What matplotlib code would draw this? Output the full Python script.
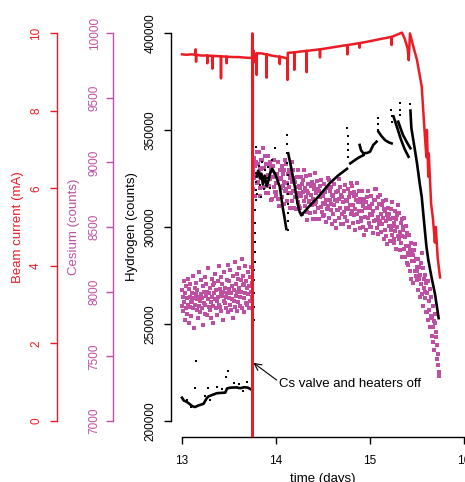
import numpy as np
import matplotlib.pyplot as plt

plt.rcParams['font.family'] = ['Liberation Sans', 'DejaVu Sans']

RED = '#EC1C24'
MAG = '#BE4FA3'

# --- beam current (mA) ---
beam_t = [13.000, 13.050, 13.100, 13.144, 13.146, 13.148, 13.150, 13.152, 13.200, 13.268,
          13.270, 13.272, 13.320, 13.323, 13.326, 13.413, 13.415, 13.417, 13.473, 13.475,
          13.477, 13.550, 13.600, 13.650, 13.700, 13.745, 13.748, 13.751, 13.754, 13.760,
          13.770, 13.775, 13.792, 13.794, 13.796, 13.830, 13.898, 13.900, 13.902, 13.950,
          14.000, 14.038, 14.040, 14.042, 14.080, 14.120, 14.123, 14.126, 14.193, 14.195,
          14.197, 14.250, 14.324, 14.326, 14.328, 14.400, 14.466, 14.468, 14.470, 14.550,
          14.650, 14.758, 14.760, 14.762, 14.888, 14.890, 14.892, 15.000, 15.100, 15.228,
          15.230, 15.232, 15.300, 15.340, 15.370, 15.400, 15.412, 15.425, 15.450, 15.500,
          15.550, 15.585, 15.600, 15.605, 15.620, 15.625, 15.650, 15.670, 15.690, 15.700,
          15.720, 15.745]
beam_v = [9.45, 9.44, 9.45, 9.44, 9.58, 9.44, 9.26, 9.44, 9.42, 9.42,
          9.22, 9.42, 9.41, 9.08, 9.41, 9.40, 8.83, 9.40, 9.39, 9.22,
          9.39, 9.38, 9.38, 9.37, 9.36, 9.36, 9.99, -1.00, 9.30, 9.55,
          9.25, 9.45, 9.47, 8.92, 9.47, 9.48, 9.45, 8.85, 9.45, 9.42,
          9.40, 9.39, 9.20, 9.39, 9.37, 9.34, 8.79, 9.49, 9.50, 9.05,
          9.50, 9.52, 9.54, 8.99, 9.54, 9.56, 9.58, 9.37, 9.58, 9.61,
          9.65, 9.69, 9.45, 9.69, 9.74, 9.62, 9.74, 9.79, 9.84, 9.90,
          9.69, 9.90, 9.97, 10.01, 9.85, 9.60, 9.30, 9.99, 9.75, 9.30,
          8.62, 7.30, 6.80, 7.50, 6.30, 6.90, 5.60, 5.20, 4.60, 5.00,
          4.20, 3.70]

# --- cesium (counts), sampled every 0.005 days ---
cs_step = 0.005
cs_pre_start = 13.000
cs_pre = [7890, 8010, 7850, 7960, 8080, 7920, 7780, 7990, 7870, 8040,
          7950, 7830, 8100, 7900, 7760, 8020, 7960, 7880, 8060, 7920,
          7810, 7990, 7930, 8120, 7870, 7950, 7720, 8030, 7900, 7980,
          8070, 7860, 7940, 8010, 7800, 7960, 8150, 7890, 7930, 7840,
          7980, 8090, 7870, 7950, 7740, 8040, 7910, 8000, 7830, 8110,
          7900, 7970, 8060, 7820, 8000, 7940, 8180, 7880, 7990, 7860,
          8030, 7920, 7800, 8100, 7960, 7890, 8050, 7760, 7990, 8070,
          7940, 8140, 7870, 8010, 7930, 7820, 8080, 7960, 8200, 7900,
          8020, 7880, 7990, 8110, 7850, 7970, 8060, 7780, 8000, 7930,
          8150, 7910, 8030, 7960, 7870, 8090, 7990, 8210, 7840, 8020,
          7950, 8080, 7900, 8170, 7990, 7860, 8040, 7940, 8120, 7800,
          8010, 7930, 8230, 7880, 8060, 7970, 8140, 7850, 8000, 8100,
          7920, 8180, 8030, 7960, 7890, 8090, 8000, 8250, 7870, 8050,
          8120, 7950, 8060, 7840, 8200, 7990, 7910, 8080, 8030, 7900,
          7980, 8150, 7870, 8040, 8110, 7930, 8190, 8000, 7960, 8070]
cs_post_start = 13.755
cs_post = [8940, 8790, 9030, 8880, 8970, 8740, 8910, 9000, 8840, 9080,
           8850, 8990, 8920, 9080, 8800, 8960, 8740, 9020, 8950, 8880,
           9020, 8870, 9110, 8810, 8960, 8890, 9050, 8760, 8990, 8840,
           8850, 9050, 8760, 8900, 8970, 8820, 9000, 8870, 8710, 8940,
           8930, 8720, 8890, 8970, 8810, 9020, 8770, 8900, 8840, 8740,
           8770, 8910, 8840, 9000, 8720, 8880, 8660, 8940, 8870, 8800,
           8880, 8730, 8970, 8820, 8910, 8680, 8850, 8940, 8780, 9020,
           8790, 8990, 8700, 8840, 8910, 8760, 8940, 8810, 8650, 8880,
           8910, 8760, 9000, 8700, 8850, 8780, 8940, 8650, 8880, 8730,
           8850, 8640, 8810, 8890, 8730, 8940, 8690, 8820, 8760, 8660,
           8800, 8650, 8890, 8740, 8830, 8600, 8770, 8860, 8700, 8940,
           8665, 8805, 8735, 8895, 8615, 8775, 8555, 8835, 8765, 8695,
           8700, 8900, 8610, 8750, 8820, 8670, 8850, 8720, 8560, 8790,
           8825, 8675, 8915, 8615, 8765, 8695, 8855, 8565, 8795, 8645,
           8775, 8565, 8735, 8815, 8655, 8865, 8615, 8745, 8685, 8585,
           8740, 8590, 8830, 8680, 8770, 8540, 8710, 8800, 8640, 8880,
           8660, 8860, 8570, 8710, 8780, 8630, 8810, 8680, 8520, 8750,
           8600, 8740, 8670, 8830, 8550, 8710, 8490, 8770, 8700, 8630,
           8780, 8630, 8870, 8570, 8720, 8650, 8810, 8520, 8750, 8600,
           8735, 8525, 8695, 8775, 8615, 8825, 8575, 8705, 8645, 8545,
           8700, 8550, 8790, 8640, 8730, 8500, 8670, 8760, 8600, 8840,
           8620, 8820, 8530, 8670, 8740, 8590, 8770, 8640, 8480, 8710,
           8750, 8600, 8840, 8540, 8690, 8620, 8780, 8490, 8720, 8570,
           8550, 8690, 8620, 8780, 8500, 8660, 8440, 8720, 8650, 8580,
           8690, 8480, 8650, 8730, 8570, 8780, 8530, 8660, 8600, 8500,
           8650, 8500, 8740, 8590, 8680, 8450, 8620, 8710, 8550, 8790,
           8705, 8555, 8795, 8495, 8645, 8575, 8735, 8445, 8675, 8525,
           8550, 8750, 8460, 8600, 8670, 8520, 8700, 8570, 8410, 8640,
           8480, 8620, 8550, 8710, 8430, 8590, 8370, 8650, 8580, 8510,
           8600, 8390, 8560, 8640, 8480, 8690, 8440, 8570, 8510, 8410,
           8530, 8380, 8620, 8470, 8560, 8330, 8500, 8590, 8430, 8670,
           8410, 8610, 8320, 8460, 8530, 8380, 8560, 8430, 8270, 8500,
           8480, 8330, 8570, 8270, 8420, 8350, 8510, 8220, 8450, 8300,
           8210, 8350, 8280, 8440, 8160, 8320, 8100, 8380, 8310, 8240,
           8280, 8070, 8240, 8320, 8160, 8370, 8120, 8250, 8190, 8090,
           8160, 8010, 8250, 8100, 8190, 7960, 8130, 8220, 8060, 8300,
           7980, 8180, 7890, 8030, 8100, 7950, 8130, 8000, 7840, 8070,
           7990, 7840, 8080, 7780, 7930, 7860, 8020, 7730, 7960, 7810,
           7660, 7800, 7730, 7890, 7610, 7770, 7550, 7830, 7760, 7690,
           7650, 7480, 7590, 7520, 7430, 7380, 7350]

# --- hydrogen (counts): dense runs (nan separates runs) and loose points ---
nan = np.nan
h_line_t = [13.000, 13.020, 13.050, 13.080, 13.110, 13.140, 13.170, 13.200, 13.230, 13.260,
            13.280, 13.320, 13.370, 13.420, 13.460, 13.480, 13.520, 13.580, 13.620, 13.660,
            13.700, 13.745, nan,
            13.795, 13.810, 13.830, 13.845, 13.860, 13.880, 13.900, 13.920, 13.940, 13.960,
            13.990, 14.020, 14.040, 14.070, 14.090, 14.110, nan,
            14.130, 14.160, 14.200, 14.230, 14.250, 14.270, 14.350, 14.450, 14.570, 14.660,
            14.755, nan,
            14.790, 14.840, 14.880, 14.930, nan,
            14.890, 14.905, 14.930, 14.970, 15.000, 15.035, 15.070, nan,
            15.090, 15.120, 15.160, 15.200, 15.230, nan,
            15.250, 15.290, 15.330, 15.370, 15.410, nan,
            15.300, 15.350, 15.400, 15.430, nan,
            15.430, 15.440, 15.470, 15.500, 15.530, 15.550, 15.580, 15.600, 15.620, 15.660,
            15.690, 15.730]
h_line_v = [212000, 210500, 209900, 208800, 207600, 207200, 207900, 208400, 208900, 211500,
            212600, 213400, 214300, 214500, 214600, 216800, 217200, 217300, 216900, 217400,
            217200, 216000, nan,
            326000, 329000, 325000, 327500, 322000, 326500, 321000, 324000, 328000, 330000,
            327500, 323500, 320800, 310500, 305000, 299000, nan,
            338000, 331000, 320800, 312000, 308000, 306000, 310500, 315600, 322500, 326500,
            330000, nan,
            332800, 334500, 335800, 337000, nan,
            342300, 339500, 338000, 338200, 338800, 342300, 344000, nan,
            349100, 347000, 344800, 343600, 343100, nan,
            357000, 351000, 345000, 340000, 336200, nan,
            354300, 347500, 343000, 340600, nan,
            360000, 351000, 342000, 332800, 322000, 315600, 300000, 290000, 283000, 272700,
            265800, 253000]

h_dot_t = [13.150, 13.140, 13.280, 13.370, 13.470, 13.486, 13.690, 13.240, 13.550, 13.610,
           13.050, 13.100, 13.300, 13.430, 13.650,
           13.752, 13.753, 13.755, 13.757, 13.758, 13.760, 13.762, 13.764, 13.766, 13.768,
           13.770, 13.772, 13.774, 13.776, 13.778, 13.780, 13.782, 13.784, 13.786, 13.788,
           13.790, 13.792,
           13.800, 13.815, 13.825, 13.840, 13.855, 13.870, 13.885, 13.900, 13.920, 13.935,
           13.960, 13.990,
           14.120, 14.121, 14.122, 14.122, 14.123, 14.123, 14.124, 14.124, 14.125, 14.125,
           14.126,
           14.760, 14.761, 14.762, 14.763, 14.764,
           15.080, 15.085, 15.088, 15.228, 15.229, 15.230, 15.318, 15.319, 15.320, 15.428,
           15.640, 15.680, 15.700, 15.710, 15.720]
h_dot_v = [230900, 216900, 216900, 217700, 222800, 225900, 220300, 213000, 219500, 219000,
           211000, 207000, 211000, 216500, 215500,
           221000, 226000, 231000, 236600, 239200, 246000, 252100, 258900, 265800, 272700,
           277800, 282100, 287000, 292400, 297000, 301900, 308800, 313900, 319100, 323400,
           327700, 341400,
           317000, 331500, 321500, 315500, 333500, 319500, 329500, 325500, 331000, 320000,
           334500, 340600,
           347400, 343000, 338000, 333000, 327000, 322000, 317000, 312000, 307000, 303000,
           298500,
           350900, 347000, 343000, 339500, 336000,
           356000, 353000, 350000, 360300, 357000, 354000, 364000, 360500, 357700, 363500,
           278000, 268000, 262000, 259000, 256000]

cs_pre_t = cs_pre_start + cs_step * np.arange(len(cs_pre))
cs_post_t = cs_post_start + cs_step * np.arange(len(cs_post))

# figure geometry in pixels (R-style plot region, right part cut off)
W, H = 465, 482
x_left, x_right = 170.7, 475.3
y_top, y_bot = 17.5, 436.5
rect = [x_left / W, 1 - y_bot / H, (x_right - x_left) / W, (y_bot - y_top) / H]

fig = plt.figure(figsize=(W / 100, H / 100), dpi=100)
ax_cs = fig.add_axes(rect, zorder=1)
ax_h = fig.add_axes(rect, zorder=2)
ax_b = fig.add_axes(rect, zorder=3)

for a in (ax_cs, ax_h, ax_b):
    a.set_xlim(12.88, 16.12)
    a.patch.set_visible(False)
    for s in a.spines.values():
        s.set_visible(False)
        s.set_linewidth(1.0)

ax_h.set_ylim(192000, 408000)
ax_cs.set_ylim(6880, 10120)
ax_b.set_ylim(-0.4, 10.4)

# data
ax_cs.plot(cs_pre_t, cs_pre, 's', ms=2.5, mew=0, color=MAG)
ax_cs.plot(cs_post_t, cs_post, 's', ms=2.5, mew=0, color=MAG)
ax_h.plot(h_line_t, h_line_v, '-', lw=1.9, color='black')
ax_h.plot(h_dot_t, h_dot_v, 's', ms=2.1, mew=0, color='black')
ax_b.plot(beam_t, beam_v, '-', lw=1.8, color=RED)

# hydrogen axis + time axis
ax_h.spines['left'].set_visible(True)
ax_h.spines['left'].set_bounds(200000, 400000)
ax_h.spines['bottom'].set_visible(True)
ax_h.spines['bottom'].set_bounds(13, 16)
ax_h.set_xticks([13, 14, 15, 16])
ax_h.set_yticks([200000, 250000, 300000, 350000, 400000])
ax_h.set_yticklabels(['200000', '250000', '300000', '350000', '400000'])
ax_h.tick_params(axis='x', length=5, width=1.0, pad=8.5, labelsize=8.5)
ax_h.tick_params(axis='y', length=5, width=1.0, pad=5, labelsize=8.5, labelrotation=90)

# cesium axis
ax_cs.xaxis.set_visible(False)
ax_cs.spines['left'].set_visible(True)
ax_cs.spines['left'].set_color(MAG)
ax_cs.spines['left'].set_position(('outward', (x_left - 113.3) * 0.72))
ax_cs.spines['left'].set_bounds(7000, 10000)
ax_cs.set_yticks([7000, 7500, 8000, 8500, 9000, 9500, 10000])
ax_cs.tick_params(axis='y', length=5, width=1.0, pad=4, labelsize=8.5, labelrotation=90,
                  color=MAG, labelcolor=MAG)

# beam axis
ax_b.xaxis.set_visible(False)
ax_b.spines['left'].set_visible(True)
ax_b.spines['left'].set_color(RED)
ax_b.spines['left'].set_position(('outward', (x_left - 57.3) * 0.72))
ax_b.spines['left'].set_bounds(0, 10)
ax_b.set_yticks([0, 2, 4, 6, 8, 10])
ax_b.tick_params(axis='y', length=5, width=1.0, pad=6, labelsize=8.5, labelrotation=90,
                 color=RED, labelcolor=RED)

for a in (ax_h, ax_cs, ax_b):
    for lbl in a.get_yticklabels():
        lbl.set_va('center')

# annotation
ax_h.annotate('', xy=(13.759, 230000), xytext=(14.007, 221100),
              arrowprops=dict(arrowstyle='->,head_length=0.5,head_width=0.25',
                              lw=0.8, color='black', shrinkA=0, shrinkB=0))
ax_h.text(14.035, 217500, 'Cs valve and heaters off', ha='left', va='baseline', fontsize=9.5)

# axis labels
fig.text(131.5 / W, 1 - 227 / H, 'Hydrogen (counts)', rotation=90, ha='center', va='center', fontsize=9.5)
fig.text(74 / W, 1 - 227 / H, 'Cesium (counts)', rotation=90, ha='center', va='center',
         fontsize=9.5, color=MAG)
fig.text(18 / W, 1 - 227 / H, 'Beam current (mA)', rotation=90, ha='center', va='center',
         fontsize=9.5, color=RED)
fig.text(322.5 / W, 1 - 473 / H, 'time (days)', ha='center', va='top', fontsize=9.5)

fig.savefig('out.png', dpi=100)
